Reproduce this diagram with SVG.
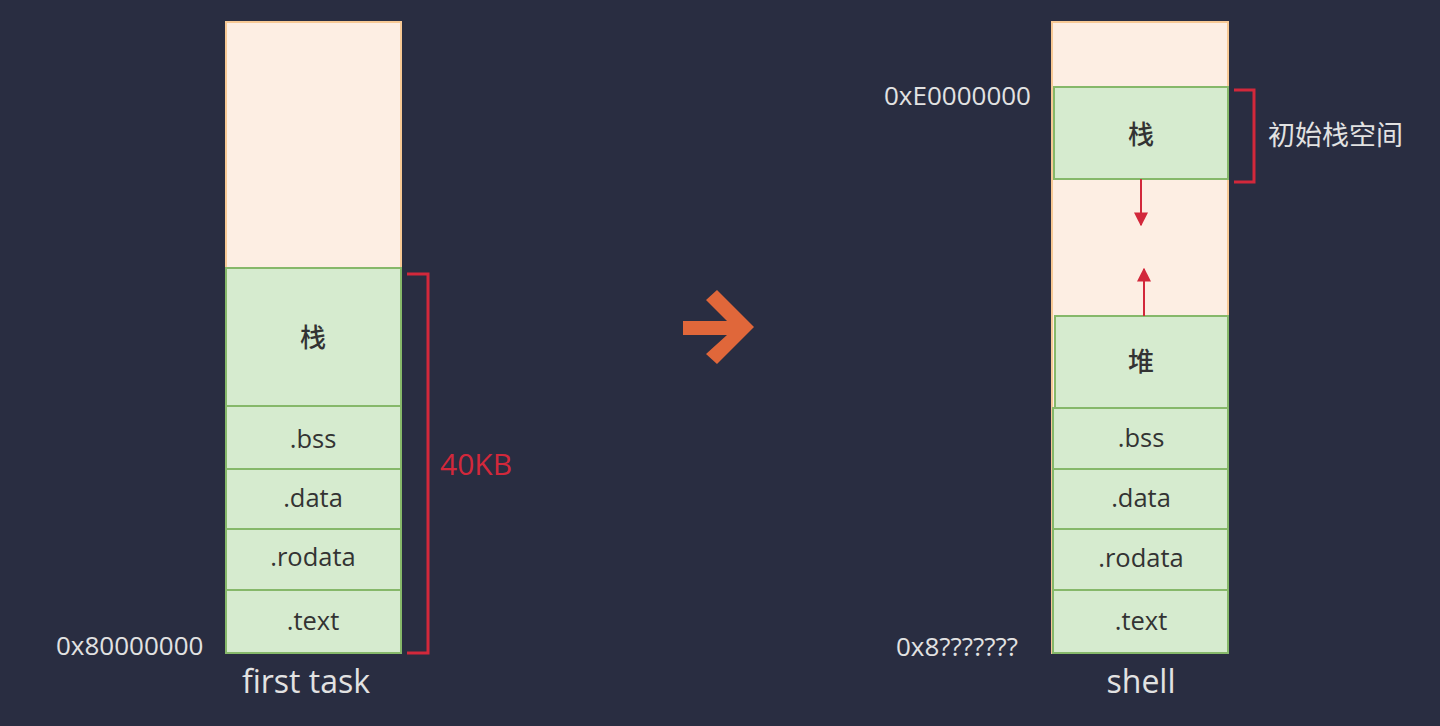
<svg xmlns="http://www.w3.org/2000/svg" width="1440" height="726" viewBox="0 0 1440 726">
<style>
.peach{fill:#fdeee3;stroke:#f7c995;stroke-width:2}
.green{fill:#d6ebcf;stroke:#86b86a;stroke-width:2}
.cell{font-family:"Open Sans","Noto Sans CJK SC",sans-serif;font-size:25.5px;fill:#333333;text-anchor:middle}
.cjk{font-family:"Noto Sans CJK SC",sans-serif;font-size:26px;font-weight:500;fill:#333333;text-anchor:middle}
.addr{font-family:"Open Sans",sans-serif;font-size:26px;fill:#e2e2e2}
.cap{font-family:"Open Sans",sans-serif;font-size:32px;fill:#e2e2e2;text-anchor:middle}
.br{fill:none;stroke:#d2283b;stroke-width:3}
</style>
<defs>
<marker id="ah" viewBox="0 0 10 10" refX="9" refY="5" markerWidth="14" markerHeight="14" markerUnits="userSpaceOnUse" orient="auto">
<path d="M0,0 L10,5 L0,10 Z" fill="#d2283b"/>
</marker>
</defs>
<rect width="1440" height="726" fill="#292d41"/>

<g id="first-task">
<rect class="peach" x="226" y="22" width="175" height="246"/>
<g id="ft-stack"><rect class="green" x="226" y="268" width="175" height="138"/><text class="cjk" x="313" y="347">栈</text></g>
<g id="ft-bss"><rect class="green" x="226" y="406" width="175" height="63"/><text class="cell" x="313" y="448">.bss</text></g>
<g id="ft-data"><rect class="green" x="226" y="469" width="175" height="60"/><text class="cell" x="313" y="507">.data</text></g>
<g id="ft-rodata"><rect class="green" x="226" y="529" width="175" height="61"/><text class="cell" x="313" y="566">.rodata</text></g>
<g id="ft-text"><rect class="green" x="226" y="590" width="175" height="63"/><text class="cell" x="313" y="630">.text</text></g>
<text class="addr" x="56" y="655">0x80000000</text>
<text class="cap" x="306" y="693">first task</text>
</g>

<g id="ft-size">
<path class="br" d="M407,274 H428 V653 H407"/>
<text x="440" y="475" font-family="'Open Sans',sans-serif" font-size="30" fill="#d2283b">40KB</text>
</g>

<g id="transition-arrow">
<polygon points="683,321 727,321 706,300 717,290 754,327 717,364 706,354 727,335 683,335" fill="#e0673a"/>
</g>

<g id="shell">
<rect class="peach" x="1052" y="22" width="176" height="631"/>
<g id="sh-stack"><rect class="green" x="1054" y="87" width="174" height="92"/><text class="cjk" x="1141" y="144">栈</text></g>
<g id="sh-heap"><rect class="green" x="1055" y="316" width="173" height="92"/><text class="cjk" x="1141" y="371">堆</text></g>
<g id="sh-bss"><rect class="green" x="1053" y="408" width="175" height="61"/><text class="cell" x="1141" y="447">.bss</text></g>
<g id="sh-data"><rect class="green" x="1053" y="469" width="175" height="60"/><text class="cell" x="1141" y="507">.data</text></g>
<g id="sh-rodata"><rect class="green" x="1053" y="529" width="175" height="61"/><text class="cell" x="1141" y="567">.rodata</text></g>
<g id="sh-text"><rect class="green" x="1053" y="590" width="175" height="63"/><text class="cell" x="1141" y="630">.text</text></g>
<text class="addr" x="884" y="105">0xE0000000</text>
<text class="addr" x="896" y="656">0x8???????</text>
<text class="cap" x="1141" y="693">shell</text>
</g>

<g id="sh-stack-space">
<path class="br" d="M1234,90 H1254 V182 H1234" stroke="#b8283a"/>
<text x="1268" y="145" font-family="'Noto Sans CJK SC',sans-serif" font-size="27" fill="#e2e2e2">初始栈空间</text>
</g>

<g id="connectors">
<line x1="1141" y1="179" x2="1141" y2="225" stroke="#d2283b" stroke-width="2" marker-end="url(#ah)"/>
<line x1="1144" y1="316" x2="1144" y2="269" stroke="#d2283b" stroke-width="2" marker-end="url(#ah)"/>
</g>
</svg>
